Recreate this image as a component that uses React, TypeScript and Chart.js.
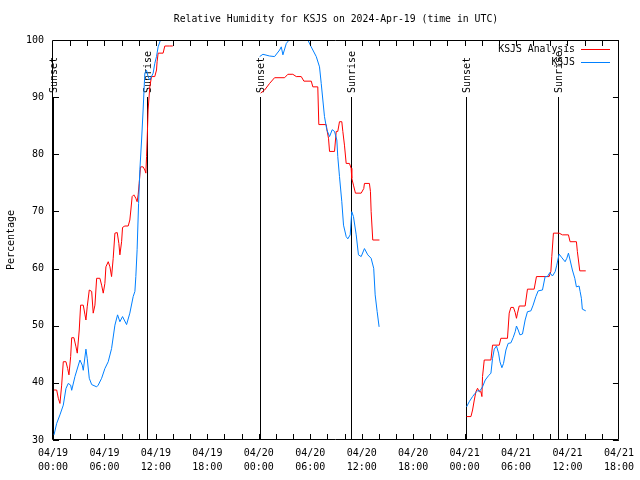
import React, { useEffect, useRef } from 'react';
import { Chart, registerables } from 'chart.js';

Chart.register(...registerables);

const TITLE = 'Relative Humidity for KSJS on 2024-Apr-19 (time in UTC)';
const Y_LABEL = 'Percentage';
const SERIES_NAMES = ['KSJS Analysis', 'KSJS'];
const SERIES_COLORS = ['#ff0000', '#0080ff'];

// x-axis tick labels (every 6 hours from 04/19 00:00 UTC)
const tickDays = ['04/19', '04/19', '04/19', '04/19', '04/20', '04/20', '04/20', '04/20', '04/21', '04/21', '04/21', '04/21'];
const tickTimes = ['00:00', '06:00', '12:00', '18:00', '00:00', '06:00', '12:00', '18:00', '00:00', '06:00', '12:00', '18:00'];
const yTicks = [30, 40, 50, 60, 70, 80, 90, 100];

// Sunrise / sunset markers (hours since 04/19 00:00 UTC)
const eventNames = ['Sunset', 'Sunrise', 'Sunset', 'Sunrise', 'Sunset', 'Sunrise'];
const eventHours = [0, 10.94, 24.1, 34.8, 48.2, 58.9];

// KSJS Analysis (red)
const analysisHours1 = [0.12, 0.43, 0.62, 0.81, 1.01, 1.2, 1.51, 1.71, 1.86, 2.06, 2.18, 2.44, 2.68, 2.83, 3.06, 3.22, 3.53, 3.73, 3.84, 3.99, 4.23, 4.51, 4.69, 4.89, 5.09, 5.47, 5.67, 5.86, 6.05, 6.17, 6.44, 6.64, 6.83, 7.02, 7.22, 7.49, 7.68, 7.8, 8.0, 8.11, 8.38, 8.77, 8.96, 9.08, 9.23, 9.43, 9.66, 9.81, 9.93, 10.05, 10.21, 10.51, 10.71, 10.83, 10.91, 10.98, 11.09, 11.29, 11.49, 11.87, 12.07, 12.14, 12.26, 12.84, 13.04, 13.62, 13.97];
const analysisValues1 = [38.75, 38.75, 37.3, 36.4, 39.6, 43.7, 43.7, 42.5, 41.4, 44.6, 47.9, 47.9, 46.3, 45.2, 49.25, 53.6, 53.6, 51.9, 51, 53.3, 56.25, 56, 52.2, 53.6, 58.3, 58.3, 57.1, 55.7, 57.4, 60.3, 61.2, 60.3, 58.6, 61.8, 66.2, 66.3, 64.4, 62.4, 64.7, 67.2, 67.45, 67.45, 68.5, 70.25, 72.6, 72.9, 72.3, 71.7, 72.9, 74.9, 77.8, 77.8, 77.25, 76.7, 79.6, 82.5, 87.75, 91.8, 93.6, 93.6, 94.75, 96.2, 97.7, 97.7, 98.95, 98.95, 98.95];
const analysisHours2 = [24.21, 24.68, 25.26, 25.84, 27.01, 27.39, 27.97, 28.37, 28.95, 29.26, 30.12, 30.3, 30.88, 31.0, 31.86, 31.98, 32.13, 32.25, 32.83, 33.03, 33.21, 33.41, 33.68, 33.8, 33.99, 34.19, 34.57, 34.77, 34.84, 35.04, 35.27, 35.94, 36.24, 36.32, 36.9, 37.02, 37.1, 37.29, 38.07];
const analysisValues2 = [90.7, 91.25, 92.4, 93.4, 93.4, 94, 94, 93.6, 93.6, 92.8, 92.8, 91.8, 91.8, 85.2, 85.2, 84, 82.8, 80.5, 80.5, 84, 84, 85.7, 85.7, 84, 81.6, 78.4, 78.4, 77.55, 75.8, 74.6, 73.2, 73.2, 74, 74.9, 74.9, 73.5, 70, 65, 65];
const analysisHours3 = [48.23, 48.74, 48.93, 49.13, 49.32, 49.51, 49.71, 49.9, 50.02, 50.09, 50.29, 51.07, 51.26, 52.04, 52.23, 53.0, 53.2, 53.4, 53.7, 53.9, 54.05, 54.17, 54.37, 55.06, 55.33, 56.11, 56.38, 57.86, 58.06, 58.17, 58.36, 59.02, 59.41, 60.11, 60.3, 61.04, 61.15, 61.43, 62.13];
const analysisValues3 = [34.1, 34.1, 35.25, 37, 38.45, 39.05, 38.45, 38.45, 37.6, 41.1, 44, 44, 46.6, 46.6, 47.8, 47.8, 52.2, 53.2, 53.2, 52.3, 51.3, 52.2, 53.45, 53.45, 56.4, 56.4, 58.6, 58.6, 59.5, 62.1, 66.2, 66.2, 65.9, 65.9, 64.7, 64.7, 63, 59.6, 59.6];

// KSJS observations (blue)
const obsHours1 = [0.12, 0.43, 0.81, 1.2, 1.51, 1.78, 2.06, 2.18, 2.56, 3.14, 3.41, 3.53, 3.84, 3.99, 4.23, 4.51, 5.09, 5.27, 5.67, 6.05, 6.44, 6.83, 7.22, 7.53, 7.8, 8.11, 8.58, 8.96, 9.35, 9.55, 9.66, 9.81, 9.98, 10.13, 10.33, 10.51, 10.71, 10.91, 11.09, 11.29, 11.68, 11.87, 12.07, 12.26, 12.54, 13.04, 13.97];
const obsValues1 = [30.9, 32.9, 34.4, 36.1, 39, 39.9, 39.6, 38.7, 41.1, 44, 43.1, 42.2, 45.9, 44.3, 40.8, 39.7, 39.3, 39.6, 40.8, 42.5, 43.7, 46, 50.1, 51.9, 50.7, 51.6, 50.2, 52.2, 55.1, 56, 58.6, 63.3, 71.4, 77.3, 82.5, 87.75, 94.2, 94.7, 93.6, 93, 94.2, 95.9, 97.1, 98.8, 100, 101, 101];
const obsHours2 = [24.1, 24.48, 25.26, 25.84, 26.43, 26.62, 26.81, 27.21, 27.59, 28.17, 29.34, 29.72, 30.11, 30.7, 31.08, 31.28, 31.47, 31.66, 31.93, 32.25, 32.56, 32.83, 33.1, 33.21, 33.41, 33.68, 33.88, 34.19, 34.38, 34.66, 34.84, 35.04, 35.36, 35.62, 35.94, 36.32, 36.71, 37.1, 37.4, 37.57, 37.8, 38.03];
const obsValues2 = [97.1, 97.5, 97.2, 97.1, 98.25, 98.8, 97.4, 99.4, 100.1, 101, 101, 100, 98.8, 97.1, 95.3, 92.4, 89.5, 86.6, 84.3, 83.1, 84.3, 84, 82.5, 79.6, 76.1, 71.7, 67.6, 65.6, 65.2, 65.9, 69.95, 69.1, 65.9, 62.4, 62.1, 63.5, 62.4, 61.8, 60.05, 55.4, 52.5, 49.8];
const obsHours3 = [48.23, 48.54, 48.93, 49.24, 49.51, 49.79, 50.09, 50.41, 50.79, 51.07, 51.26, 51.46, 51.72, 51.96, 52.12, 52.35, 52.54, 52.82, 53.08, 53.4, 53.67, 53.9, 54.05, 54.25, 54.45, 54.75, 55.06, 55.33, 55.73, 55.99, 56.31, 56.58, 57.08, 57.39, 57.66, 57.94, 58.24, 58.56, 58.75, 59.02, 59.29, 59.72, 59.92, 60.11, 60.3, 60.57, 60.85, 61.04, 61.35, 61.47, 61.62, 61.73, 62.13];
const obsValues3 = [35.8, 36.7, 37.6, 38.2, 38.6, 38.6, 39.3, 40.5, 41.25, 41.7, 44.3, 45.9, 46.45, 45.2, 43.7, 42.65, 43.4, 45.75, 46.9, 47.0, 47.95, 48.95, 49.95, 49.25, 48.4, 48.55, 51, 52.45, 52.6, 53.6, 55.1, 56.1, 56.25, 58.6, 58.6, 59.3, 58.7, 59.45, 60.6, 62.55, 62, 61.2, 61.8, 62.7, 61.5, 59.75, 58.3, 56.8, 56.95, 56, 54.8, 52.9, 52.6];

type Pt = { x: number; y: number | null };

function segment(hours: number[], values: number[]): Pt[] {
  return hours.map((h, i) => ({ x: h, y: values[i] }));
}

function joinSegments(segs: Pt[][]): Pt[] {
  const out: Pt[] = [];
  segs.forEach((s, i) => {
    if (i > 0) {
      const prev = out[out.length - 1].x;
      out.push({ x: (prev + s[0].x) / 2, y: null });
    }
    out.push(...s);
  });
  return out;
}

const FONT = "'DejaVu Sans Mono', monospace";

const framePlugin = {
  id: 'gnuplotFrame',
  beforeDraw(chart: any) {
    const ctx = chart.ctx;
    ctx.save();
    ctx.fillStyle = '#ffffff';
    ctx.fillRect(0, 0, chart.width, chart.height);
    ctx.restore();
  },
  beforeDatasetsDraw(chart: any) {
    const { ctx, chartArea, scales } = chart;
    const xs = scales.x;
    ctx.save();
    ctx.strokeStyle = '#000000';
    ctx.lineWidth = 1;
    ctx.fillStyle = '#000000';
    ctx.font = `10px ${FONT}`;
    eventHours.forEach((h, i) => {
      const px = Math.round(xs.getPixelForValue(h)) + 0.5;
      ctx.beginPath();
      ctx.moveTo(px, 97);
      ctx.lineTo(px, chartArea.bottom);
      ctx.stroke();
      ctx.save();
      ctx.translate(px + 1, 93);
      ctx.rotate(-Math.PI / 2);
      ctx.textAlign = 'left';
      ctx.textBaseline = 'middle';
      ctx.fillText(eventNames[i], 0, 0);
      ctx.restore();
    });
    ctx.restore();
  },
  afterDatasetsDraw(chart: any) {
    const { ctx, chartArea, scales } = chart;
    const xs = scales.x;
    const ys = scales.y;
    const { left, right, top, bottom } = chartArea;
    ctx.save();
    ctx.strokeStyle = '#000000';
    ctx.lineWidth = 1;
    ctx.beginPath();
    ctx.rect(Math.round(left) - 0.5, Math.round(top) + 0.5, Math.round(right - left), Math.round(bottom - top) - 1);
    ctx.stroke();
    // inward ticks, x every 2 hours
    ctx.beginPath();
    for (let h = 2; h < 66; h += 2) {
      const px = Math.round(xs.getPixelForValue(h)) + 0.5;
      ctx.moveTo(px, bottom);
      ctx.lineTo(px, bottom - 6);
      ctx.moveTo(px, top);
      ctx.lineTo(px, top + 6);
    }
    yTicks.forEach((v) => {
      const py = Math.round(ys.getPixelForValue(v)) + 0.5;
      ctx.moveTo(left, py);
      ctx.lineTo(left + 6, py);
      ctx.moveTo(right, py);
      ctx.lineTo(right - 6, py);
    });
    ctx.stroke();

    // title, centred over the plot area
    ctx.fillStyle = '#000000';
    ctx.font = `9.8px ${FONT}`;
    ctx.textAlign = 'center';
    ctx.textBaseline = 'middle';
    ctx.fillText(TITLE, (left + right) / 2, 19);

    // legend
    ctx.textAlign = 'right';
    SERIES_NAMES.forEach((name, i) => {
      const y = 49 + i * 13;
      ctx.fillText(name, 575, y);
      ctx.strokeStyle = SERIES_COLORS[i];
      ctx.beginPath();
      ctx.moveTo(581, y + 0.5);
      ctx.lineTo(610, y + 0.5);
      ctx.stroke();
    });
    ctx.restore();
  },
};

export default function App() {
  const canvasRef = useRef<HTMLCanvasElement | null>(null);

  useEffect(() => {
    const canvas = canvasRef.current;
    if (!canvas) return;
    const analysis = joinSegments([
      segment(analysisHours1, analysisValues1),
      segment(analysisHours2, analysisValues2),
      segment(analysisHours3, analysisValues3),
    ]);
    const obs = joinSegments([
      segment(obsHours1, obsValues1),
      segment(obsHours2, obsValues2),
      segment(obsHours3, obsValues3),
    ]);
    const chart = new Chart(canvas, {
      type: 'line',
      data: {
        datasets: [
          {
            label: SERIES_NAMES[0],
            data: analysis as any,
            borderColor: SERIES_COLORS[0],
            backgroundColor: SERIES_COLORS[0],
            borderWidth: 1,
            pointRadius: 0,
            tension: 0,
            spanGaps: false,
            order: 1,
          },
          {
            label: SERIES_NAMES[1],
            data: obs as any,
            borderColor: SERIES_COLORS[1],
            backgroundColor: SERIES_COLORS[1],
            borderWidth: 1,
            pointRadius: 0,
            tension: 0,
            spanGaps: false,
            order: 0,
          },
        ],
      },
      options: {
        animation: false,
        responsive: false,
        maintainAspectRatio: false,
        layout: { padding: { left: 0, right: 20, top: 40, bottom: 0 } },
        plugins: {
          legend: { display: false },
          tooltip: { enabled: false },
          title: { display: false },
        },
        scales: {
          x: {
            type: 'linear',
            min: 0,
            max: 66,
            grid: { display: false, drawTicks: false },
            border: { display: false },
            ticks: {
              stepSize: 6,
              autoSkip: false,
              maxRotation: 0,
              minRotation: 0,
              padding: 6,
              color: '#000000',
              font: { family: FONT, size: 10, lineHeight: 1.4 },
              callback: (value: any) => {
                const i = Math.round(Number(value) / 6);
                return [tickDays[i], tickTimes[i]];
              },
            },
            afterFit: (scale: any) => {
              scale.height = 40;
            },
          },
          y: {
            type: 'linear',
            min: 30,
            max: 100,
            grid: { display: false, drawTicks: false },
            border: { display: false },
            ticks: {
              stepSize: 10,
              padding: 9,
              color: '#000000',
              font: { family: FONT, size: 10 },
            },
            title: {
              display: true,
              text: Y_LABEL,
              color: '#000000',
              font: { family: FONT, size: 10, lineHeight: 1.2 },
              padding: { top: 5, bottom: 0 },
            },
            afterFit: (scale: any) => {
              scale.width = 53;
            },
          },
        },
      },
      plugins: [framePlugin],
    });
    return () => chart.destroy();
  }, []);

  return (
    <div style={{ position: 'fixed', left: 0, top: 0, width: 640, height: 480, background: '#fff' }}>
      <canvas ref={canvasRef} width={640} height={480} style={{ width: 640, height: 480, display: 'block' }} />
    </div>
  );
}
